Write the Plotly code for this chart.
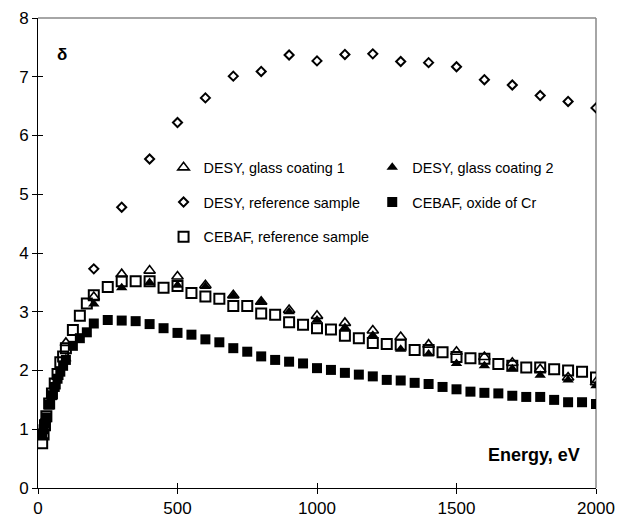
import plotly.graph_objects as go

# ---- data ----
desy_x = [100, 200, 300, 400, 500, 600, 700, 800, 900, 1000, 1100, 1200, 1300, 1400, 1500, 1600, 1700, 1800, 1900, 2000]
glass1_y = [2.47, 3.25, 3.64, 3.70, 3.60, 3.45, 3.28, 3.17, 3.03, 2.93, 2.81, 2.68, 2.57, 2.44, 2.32, 2.23, 2.13, 2.02, 1.88, 1.80]
glass2_y = [2.20, 3.13, 3.41, 3.50, 3.45, 3.43, 3.27, 3.16, 3.00, 2.86, 2.73, 2.60, 2.36, 2.28, 2.12, 2.08, 2.03, 1.92, 1.84, 1.74]

ref_x = [200, 300, 400, 500, 600, 700, 800, 900, 1000, 1100, 1200, 1300, 1400, 1500, 1600, 1700, 1800, 1900, 2000]
ref_y = [3.73, 4.78, 5.60, 6.22, 6.64, 7.01, 7.09, 7.37, 7.27, 7.38, 7.39, 7.26, 7.24, 7.17, 6.95, 6.86, 6.68, 6.58, 6.47]

cebaf_x = [15, 20, 25, 30, 40, 50, 60, 70, 80, 90, 100, 125, 150, 175, 200,
           250, 300, 350, 400, 450, 500, 550, 600, 650, 700, 750, 800, 850, 900, 950,
           1000, 1050, 1100, 1150, 1200, 1250, 1300, 1350, 1400, 1450, 1500, 1550, 1600,
           1650, 1700, 1750, 1800, 1850, 1900, 1950, 2000]
cebaf_ref_y = [0.76, 0.91, 1.07, 1.22, 1.44, 1.61, 1.78, 1.94, 2.14, 2.24, 2.38, 2.69, 2.93, 3.14, 3.28,
               3.42, 3.52, 3.52, 3.52, 3.41, 3.44, 3.32, 3.26, 3.22, 3.10, 3.10, 2.97, 2.95, 2.82, 2.78,
               2.72, 2.70, 2.59, 2.55, 2.47, 2.45, 2.44, 2.35, 2.35, 2.31, 2.23, 2.21, 2.20,
               2.11, 2.08, 2.05, 2.05, 2.02, 2.00, 1.98, 1.88]
cebaf_cr_y = [0.92, 1.00, 1.10, 1.20, 1.42, 1.58, 1.72, 1.86, 1.98, 2.08, 2.18, 2.42, 2.55, 2.65, 2.80,
              2.86, 2.85, 2.84, 2.79, 2.72, 2.64, 2.61, 2.53, 2.48, 2.38, 2.32, 2.24, 2.18, 2.15, 2.12,
              2.04, 2.01, 1.96, 1.93, 1.90, 1.84, 1.83, 1.79, 1.77, 1.72, 1.68, 1.64, 1.62,
              1.61, 1.57, 1.55, 1.55, 1.50, 1.46, 1.46, 1.43]

names = ["DESY, glass coating 1", "DESY, glass coating 2", "DESY, reference sample",
         "CEBAF, oxide of Cr", "CEBAF, reference sample"]

x_ticks = [0, 500, 1000, 1500, 2000]
y_ticks = [0, 1, 2, 3, 4, 5, 6, 7, 8]
x_range = [0, 2000]
y_range = [0, 8]

FONT = "Liberation Sans, Arial, sans-serif"

fig = go.Figure()

# empty trace that only carries the overlay axes used for the inner half of the crossing ticks
fig.add_trace(go.Scatter(x=[], y=[], xaxis="x2", yaxis="y2", showlegend=False, hoverinfo="skip"))

fig.add_trace(go.Scatter(
    x=cebaf_x, y=cebaf_cr_y, mode="markers", name=names[3],
    marker=dict(symbol="square", size=10, color="black"),
    legend="legend2", legendgroup="g4", legendrank=2))
fig.add_trace(go.Scatter(
    x=cebaf_x, y=cebaf_ref_y, mode="markers", name=names[4],
    marker=dict(symbol="square-open", size=10, color="black", line=dict(width=2, color="black")),
    legend="legend", legendgroup="g5", legendrank=3))
fig.add_trace(go.Scatter(
    x=desy_x, y=glass2_y, mode="markers", name=names[1],
    marker=dict(symbol="triangle-up", size=10, color="black"),
    legend="legend2", legendgroup="g2", legendrank=1))
fig.add_trace(go.Scatter(
    x=desy_x, y=glass1_y, mode="markers", name=names[0],
    marker=dict(symbol="triangle-up-open", size=10, color="black", line=dict(width=1.6, color="black")),
    legend="legend", legendgroup="g1", legendrank=1))
fig.add_trace(go.Scatter(
    x=ref_x, y=ref_y, mode="markers", name=names[2],
    marker=dict(symbol="diamond-open", size=7, color="black", line=dict(width=2, color="black")),
    legend="legend", legendgroup="g3", legendrank=2))

legend_common = dict(
    font=dict(family=FONT, size=14.4, color="black"),
    bgcolor="rgba(0,0,0,0)", borderwidth=0,
    orientation="v", tracegroupgap=13, xanchor="left", yanchor="top",
    itemclick=False, itemdoubleclick=False,
)

axis_common = dict(showline=True, linecolor="black", linewidth=1, showgrid=False,
                   zeroline=False, automargin=False, tickcolor="black", ticklen=5)

fig.update_layout(
    width=627, height=522,
    margin=dict(l=30, r=39, t=10, b=42, autoexpand=False),
    paper_bgcolor="white", plot_bgcolor="white",
    font=dict(family=FONT, size=17, color="black"),
    showlegend=True,
    legend=dict(x=0.225, y=0.716, **legend_common),
    legend2=dict(x=0.599, y=0.716, **legend_common),
    xaxis=dict(range=x_range, tickvals=x_ticks, ticks="outside", tickfont=dict(size=17), **axis_common),
    yaxis=dict(range=y_range, tickvals=y_ticks, ticks="outside", tickfont=dict(size=17), **axis_common),
    xaxis2=dict(range=x_range, tickvals=x_ticks, ticks="inside", showticklabels=False,
                overlaying="x", anchor="y2", side="bottom", **axis_common),
    yaxis2=dict(range=y_range, tickvals=y_ticks, ticks="inside", showticklabels=False,
                overlaying="y", anchor="x2", side="left", **axis_common),
    shapes=[dict(type="line", xref="paper", yref="paper", x0=0, x1=1, y0=1, y1=1,
                 line=dict(color="#888888", width=1.5), layer="below"),
            dict(type="line", xref="paper", yref="paper", x0=1, x1=1, y0=0, y1=1,
                 line=dict(color="#888888", width=1.5), layer="below")],
    annotations=[
        dict(text="<b>δ</b>", xref="paper", yref="paper", x=0.031, y=0.947,
             showarrow=False, font=dict(family=FONT, size=17, color="black")),
        dict(text="<b>Energy, eV</b>", xref="paper", yref="paper", x=0.975, y=0.070,
             xanchor="right", yanchor="middle", showarrow=False,
             font=dict(family=FONT, size=18, color="black")),
    ],
)

fig.write_html("out.html")
